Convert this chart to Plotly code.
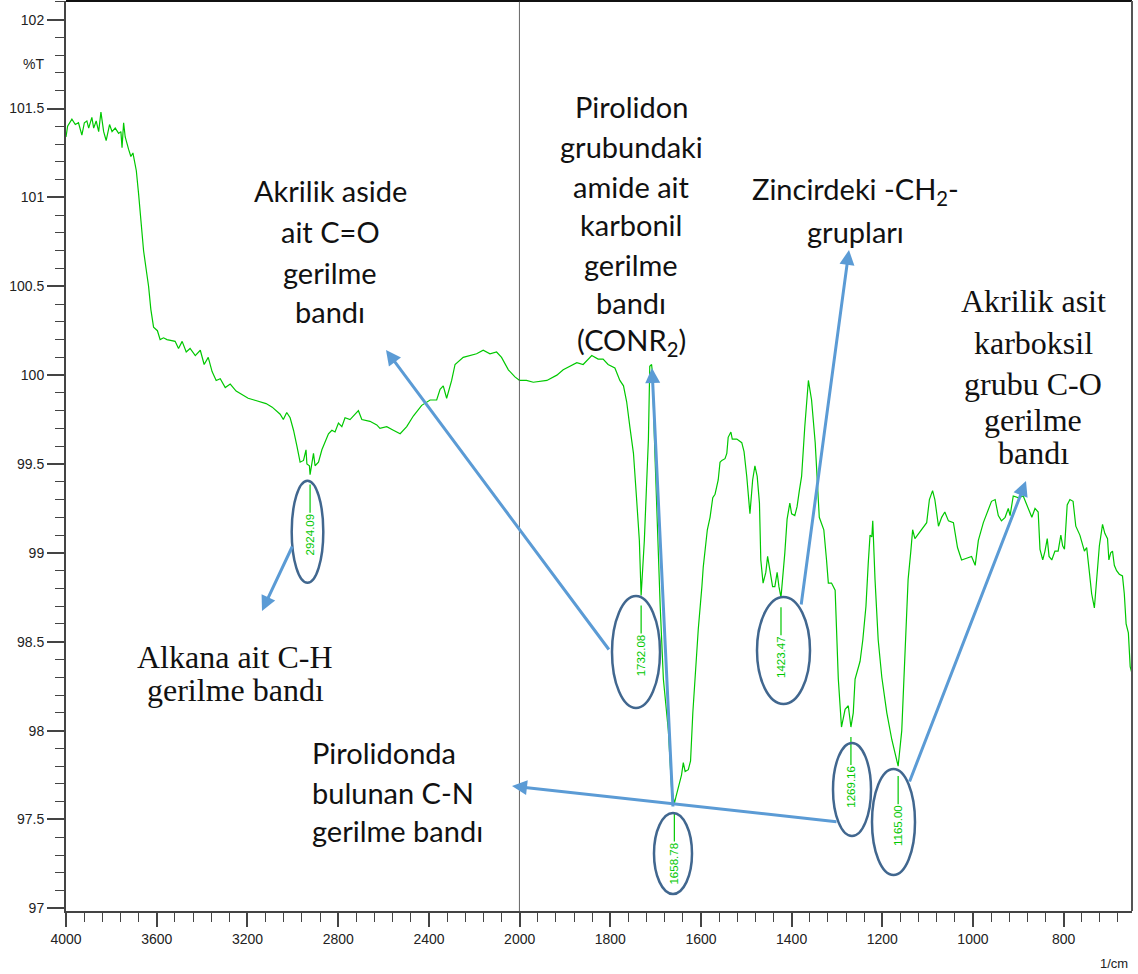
import plotly.graph_objects as go

# ---------------- data ----------------
wavenumber = [
    4000, 3993, 3974, 3959, 3945, 3930, 3919, 3908, 3900, 3886,
    3878, 3867, 3856, 3846, 3834, 3823, 3808, 3797, 3783, 3768,
    3758, 3753, 3746, 3739, 3724, 3714, 3705, 3690, 3680, 3670,
    3658, 3646, 3636, 3626, 3614, 3597, 3585, 3570, 3555, 3519,
    3504, 3488, 3470, 3453, 3430, 3408, 3391, 3373, 3356, 3338,
    3320, 3298, 3276, 3250, 3223, 3197, 3171, 3144, 3118, 3091,
    3065, 3056, 3042, 3027, 3012, 2997, 2982, 2968, 2953, 2942,
    2938, 2927, 2924.09, 2909, 2902, 2887, 2872, 2858, 2843, 2828,
    2814, 2799, 2784, 2770, 2748, 2711, 2696, 2660, 2630, 2616,
    2586, 2557, 2527, 2498, 2469, 2432, 2395, 2366, 2351, 2337,
    2322, 2300, 2285, 2249, 2219, 2190, 2161, 2131, 2102, 2080,
    2050, 2021,
    2000, 1985, 1970, 1940, 1918, 1904, 1874, 1860, 1841, 1827,
    1816, 1805, 1790, 1782, 1779, 1771, 1764, 1757, 1749, 1742,
    1736, 1732.08, 1725, 1716, 1713, 1709, 1707, 1702, 1696, 1690,
    1683, 1672, 1665, 1658.78, 1655, 1643, 1639, 1635, 1628, 1623,
    1618, 1613, 1606, 1598, 1595, 1586, 1580, 1574, 1569, 1562,
    1558, 1554, 1547, 1543, 1540, 1534, 1531, 1521, 1510, 1505,
    1499, 1492, 1486, 1481, 1476, 1471, 1468, 1463, 1457, 1453,
    1448, 1442, 1437, 1432, 1428, 1423.47, 1415, 1410, 1404, 1400,
    1393, 1388, 1383, 1378, 1371, 1363, 1356, 1348, 1339, 1334,
    1329, 1323, 1319, 1312, 1304, 1297, 1290, 1282, 1275, 1269.16,
    1264, 1260, 1249, 1243, 1236, 1231, 1227, 1223, 1221, 1216,
    1209, 1201, 1190, 1179, 1168, 1165.00, 1157, 1150, 1143, 1137,
    1133, 1128, 1117, 1102, 1096, 1089, 1084, 1076, 1069, 1062,
    1054, 1043, 1034, 1025, 1014, 1003, 995, 988, 977, 970,
    959, 951, 944, 937, 929, 922, 918, 911, 900, 889,
    881, 870, 863, 856, 852, 846, 841, 836, 832, 826,
    819, 812, 806, 802, 798, 792, 786, 779, 773, 764,
    754, 749, 743, 738, 732, 727, 721, 714, 709, 703,
    700, 696, 692, 688, 683, 677, 670, 666, 662, 657,
    653, 650,
]
transmittance = [
    101.34, 101.40, 101.44, 101.41, 101.42, 101.35, 101.42, 101.43, 101.39, 101.45,
    101.39, 101.43, 101.37, 101.48, 101.37, 101.32, 101.41, 101.37, 101.39, 101.36,
    101.37, 101.28, 101.42, 101.34, 101.27, 101.23, 101.25, 101.15, 101.02, 100.87,
    100.70, 100.59, 100.50, 100.37, 100.27, 100.25, 100.20, 100.21, 100.20, 100.19,
    100.15, 100.19, 100.13, 100.15, 100.11, 100.14, 100.06, 100.10, 100.02, 99.97,
    99.98, 99.93, 99.95, 99.91, 99.89, 99.87, 99.86, 99.85, 99.84, 99.82,
    99.79, 99.78, 99.75, 99.79, 99.76, 99.69, 99.60, 99.51, 99.52, 99.58,
    99.50, 99.49, 99.44, 99.56, 99.49, 99.51, 99.58, 99.62, 99.67, 99.69,
    99.68, 99.73, 99.71, 99.76, 99.75, 99.80, 99.75, 99.74, 99.72, 99.70,
    99.71, 99.69, 99.67, 99.71, 99.77, 99.83, 99.86, 99.86, 99.92, 99.94,
    99.87, 99.97, 100.06, 100.10, 100.11, 100.12, 100.14, 100.12, 100.13, 100.10,
    100.03, 99.99,
    99.97, 99.97, 99.96, 99.97, 100.00, 100.03, 100.07, 100.06, 100.11, 100.09,
    100.09, 100.06, 100.04, 99.99, 99.97, 99.94, 99.85, 99.71, 99.56, 99.30,
    99.07, 98.76, 99.07, 99.64, 100.05, 100.06, 100.01, 99.58, 99.07, 98.70,
    98.29, 98.00, 97.68, 97.59, 97.63, 97.75, 97.82, 97.77, 97.78, 97.83,
    98.10, 98.32, 98.57, 98.81, 98.92, 99.13, 99.20, 99.31, 99.33, 99.41,
    99.51, 99.52, 99.53, 99.56, 99.65, 99.68, 99.64, 99.64, 99.62, 99.57,
    99.43, 99.22, 99.41, 99.49, 99.43, 99.28, 98.96, 98.83, 98.89, 98.98,
    98.90, 98.81, 98.81, 98.89, 98.81, 98.75, 99.00, 99.19, 99.28, 99.22,
    99.21, 99.26, 99.35, 99.43, 99.71, 99.97, 99.86, 99.62, 99.20, 99.17,
    99.13, 98.96, 98.83, 98.83, 98.79, 98.29, 98.02, 98.12, 98.14, 98.02,
    98.10, 98.29, 98.39, 98.51, 98.70, 98.94, 99.10, 99.09, 99.18, 98.85,
    98.51, 98.30, 98.10, 97.95, 97.83, 97.80, 98.00, 98.47, 98.85, 99.01,
    99.13, 99.08, 99.12, 99.17, 99.30, 99.35, 99.30, 99.15, 99.20, 99.23,
    99.18, 99.17, 99.03, 98.96, 98.97, 98.98, 98.93, 99.07, 99.17, 99.22,
    99.29, 99.30, 99.21, 99.18, 99.20, 99.25, 99.21, 99.32, 99.31, 99.32,
    99.27, 99.20, 99.25, 99.23, 99.02, 98.96, 99.01, 99.08, 98.98, 98.96,
    99.01, 99.01, 99.10, 99.04, 99.02, 99.27, 99.30, 99.29, 99.15, 99.10,
    99.01, 99.03, 98.89, 98.77, 98.69, 98.87, 99.04, 99.16, 99.11, 99.08,
    98.96, 99.00, 99.01, 98.93, 98.90, 98.88, 98.87, 98.77, 98.60, 98.55,
    98.36, 98.33,
]

peak_wavenumbers = [2924.09, 1732.08, 1658.78, 1423.47, 1269.16, 1165.00]
peak_transmittance = [99.44, 98.76, 97.59, 98.75, 98.02, 97.80]
peak_labels = ["2924.09", "1732.08", "1658.78", "1423.47", "1269.16", "1165.00"]

x_tick_left = [4000, 3600, 3200, 2800, 2400, 2000]
x_tick_right = [1800, 1600, 1400, 1200, 1000, 800]
y_ticks = [97, 97.5, 98, 98.5, 99, 99.5, 100, 100.5, 101, 101.5, 102]
y_ticktext = ["97", "97.5", "98", "98.5", "99", "99.5", "100", "100.5", "101", "101.5", "102"]

# ---------------- layout geometry ----------------
W, H = 1138, 974
ML, MR, MT, MB = 66, 6, 1, 63
PW, PH = W - ML - MR, H - MT - MB
BREAK = 2000
SPLIT = (519.7 - ML) / PW


def fx(p):
    return (p - ML) / PW


def fy(p):
    return (H - MB - p) / PH


GREEN = "#00c800"
AXC = "#444444"
ARROW = "#5b9bd5"
ELL = "#41678f"
SANS = "Lato"
SERIF = "Liberation Serif"
TICKFONT = dict(family="Liberation Sans, Arial", size=14, color="#222222")

left_x = [w for w in wavenumber if w >= BREAK]
left_y = [t for w, t in zip(wavenumber, transmittance) if w >= BREAK]
right_x = [w for w in wavenumber if w <= BREAK]
right_y = [t for w, t in zip(wavenumber, transmittance) if w <= BREAK]

fig = go.Figure()
fig.add_trace(go.Scatter(x=left_x, y=left_y, xaxis="x", yaxis="y", mode="lines",
                         line=dict(color=GREEN, width=1.2), showlegend=False, hoverinfo="skip"))
fig.add_trace(go.Scatter(x=right_x, y=right_y, xaxis="x2", yaxis="y", mode="lines",
                         line=dict(color=GREEN, width=1.2), showlegend=False, hoverinfo="skip"))

common_x = dict(ticks="outside", ticklen=14, tickwidth=1.5, tickcolor=AXC,
                showline=True, linecolor=AXC, linewidth=2, showgrid=False, zeroline=False,
                tickfont=TICKFONT, anchor="y", fixedrange=True, automargin=False)

fig.update_layout(
    width=W, height=H,
    margin=dict(l=ML, r=MR, t=MT, b=MB, autoexpand=False),
    showlegend=False,
    paper_bgcolor="white", plot_bgcolor="white",
    xaxis=dict(domain=[0, SPLIT], range=[4000, BREAK], tickmode="array", tickvals=x_tick_left,
               minor=dict(dtick=80, tick0=4000, ticks="outside", ticklen=9, tickwidth=1.2, tickcolor=AXC),
               **common_x),
    xaxis2=dict(domain=[SPLIT, 1], range=[BREAK, 649], tickmode="array", tickvals=x_tick_right,
                minor=dict(dtick=40, tick0=2000, ticks="outside", ticklen=9, tickwidth=1.2, tickcolor=AXC),
                **common_x),
    yaxis=dict(domain=[0, 1], range=[96.985, 102.105], tickmode="array", tickvals=y_ticks,
               ticktext=y_ticktext, ticks="outside", ticklen=17, tickwidth=1.5, tickcolor=AXC,
               minor=dict(dtick=0.1, tick0=97, ticks="outside", ticklen=9, tickwidth=1.2, tickcolor=AXC),
               showline=True, linecolor=AXC, linewidth=2, showgrid=False, zeroline=False,
               tickfont=TICKFONT, anchor="x", fixedrange=True, automargin=False),
)

shapes = []
# frame: top border, right border, break line at 2000
shapes.append(dict(type="line", xref="paper", yref="paper", x0=0, x1=1, y0=1, y1=1,
                   line=dict(color="#111111", width=2)))
shapes.append(dict(type="line", xref="paper", yref="paper", x0=1, x1=1, y0=0, y1=1,
                   line=dict(color="#555555", width=2)))
shapes.append(dict(type="line", xref="x", yref="paper", x0=BREAK, x1=BREAK, y0=0, y1=1,
                   line=dict(color="#333333", width=1.5)))

annotations = []
# peak markers and labels
for w, t, lab in zip(peak_wavenumbers, peak_transmittance, peak_labels):
    xr = "x" if w >= BREAK else "x2"
    shapes.append(dict(type="line", xref=xr, yref="y", x0=w, x1=w, y0=t - 0.056, y1=t - 0.214,
                       line=dict(color=GREEN, width=1.2)))
    annotations.append(dict(x=w, y=t - 0.336, xref=xr, yref="y", text=lab, showarrow=False,
                            textangle=-90, xanchor="center", yanchor="middle",
                            font=dict(family="Liberation Sans, Arial", size=11.5, color=GREEN)))

# ellipses around peak labels (pixel boxes)
ellipses = [(291.7, 323.3, 480.7, 582.7), (612, 660, 596, 708), (654, 692, 813, 894),
            (757, 810, 597, 704), (833, 871, 743, 836), (872, 915, 769, 875)]
for x0, x1, y0, y1 in ellipses:
    shapes.append(dict(type="circle", xref="paper", yref="paper", x0=fx(x0), x1=fx(x1),
                       y0=fy(y1), y1=fy(y0), line=dict(color=ELL, width=2.5), layer="above"))

# arrows: (tail px, tail py, tip px, tip py)
arrows = [(293, 545, 262, 611), (610, 651, 386, 350), (673, 808, 652, 368),
          (801, 606, 849, 250), (838, 822, 512, 786), (909, 783, 1026, 481)]
for tx, ty, hx, hy in arrows:
    annotations.append(dict(x=fx(hx), y=fy(hy), xref="paper", yref="paper", text="",
                            showarrow=True, arrowhead=2, arrowsize=1, arrowwidth=3,
                            arrowcolor=ARROW, ax=tx - hx, ay=ty - hy, standoff=0))

# text blocks: (lines, x, ys, font, anchor)
blocks = [
    (["Akrilik aside", "ait C=O", "gerilme", "bandı"], 330, [190, 231, 272, 311], SANS, "center"),
    (["Pirolidon", "grubundaki", "amide ait", "karbonil", "gerilme", "bandı", "(CONR<sub>2</sub>)"],
     631, [106, 146, 186, 224, 264, 302, 341], SANS, "center"),
    (["Zincirdeki -CH<sub>2</sub>-", "grupları"], 855, [190, 231], SANS, "center"),
    (["Pirolidonda", "bulunan C-N", "gerilme bandı"], 310, [752, 792, 830], SANS, "left"),
    (["Akrilik asit", "karboksil", "grubu C-O", "gerilme", "bandı"], 1033,
     [301, 343, 384, 420, 453], SERIF, "center"),
    (["Alkana ait C-H", "gerilme bandı"], 235, [657, 690], SERIF, "center"),
]
for lines, x, ys, fam, anc in blocks:
    size = 29 if fam == SANS else 32
    for line, y in zip(lines, ys):
        annotations.append(dict(x=fx(x), y=fy(y), xref="paper", yref="paper", text=line,
                                showarrow=False, xanchor=anc, yanchor="middle",
                                font=dict(family=fam, size=size, color="#111111")))

# axis captions
annotations.append(dict(x=fx(33), y=fy(64), xref="paper", yref="paper", text="%T", showarrow=False,
                        xanchor="center", yanchor="middle",
                        font=dict(family="Liberation Sans, Arial", size=14, color="#222222")))
annotations.append(dict(x=fx(1130), y=fy(963), xref="paper", yref="paper", text="1/cm", showarrow=False,
                        xanchor="right", yanchor="middle",
                        font=dict(family="Liberation Sans, Arial", size=13, color="#222222")))

fig.update_layout(shapes=shapes, annotations=annotations)
fig.write_html("out.html")
